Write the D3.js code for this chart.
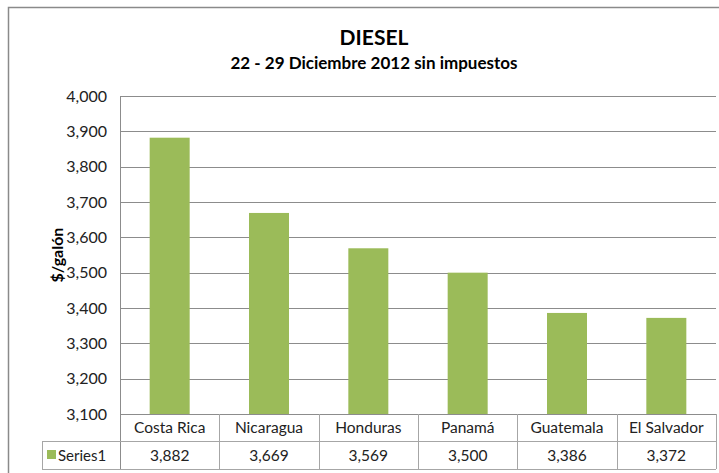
<!DOCTYPE html>
<html><head><meta charset="utf-8">
<script src="https://cdn.jsdelivr.net/npm/d3@7"></script>
<style>body{margin:0;background:#fff}svg{display:block;font-family:Lato,"Open Sans",sans-serif}</style>
</head><body>
<svg id="c" width="719" height="473"></svg>
<script>
const categories = ["Costa Rica","Nicaragua","Honduras","Panamá","Guatemala","El Salvador"];
const seriesName = "Series1";
const values = [3882,3669,3569,3500,3386,3372];
const yTicks = [3100,3200,3300,3400,3500,3600,3700,3800,3900,4000];
const title = "DIESEL";
const subtitle = "22 - 29 Diciembre 2012 sin impuestos";
const yLabel = "$/galón";

const svg = d3.select("#c");
const fmt = d3.format(",");
const L = 120, R = 716, T = 96, B = 414;
const x = d3.scaleBand().domain(categories).range([L, R]);
const y = d3.scaleLinear().domain([3100, 4000]).range([B, T]);
const grid = "#8c8c8c", tbl = "#a6a6a6", green = "#9bbb59";

// outer frame
svg.append("rect").attr("x", 8.5).attr("y", 7.5).attr("width", 740).attr("height", 500)
  .attr("fill", "none").attr("stroke", "#8a8a8a").attr("stroke-width", 1.5);

// titles
svg.append("text").attr("x", 374).attr("y", 45).attr("text-anchor", "middle")
  .attr("font-size", 21).attr("font-weight", "bold").text(title);
svg.append("text").attr("x", 374).attr("y", 69).attr("text-anchor", "middle")
  .attr("font-size", 17).attr("font-weight", "bold").text(subtitle);

// y axis grid + labels
const yAxis = d3.axisLeft(y).tickValues(yTicks).tickFormat(fmt).tickSize(0).tickPadding(13);
const ga = svg.append("g").attr("transform", `translate(${L},0)`).call(yAxis);
ga.select(".domain").remove();
ga.selectAll("text").attr("font-size", 16).attr("fill", "#222").attr("font-family", "Lato,sans-serif");
svg.append("g").selectAll("line").data(yTicks).join("line")
  .attr("x1", L).attr("x2", R).attr("y1", d => Math.round(y(d)) + 0.5).attr("y2", d => Math.round(y(d)) + 0.5)
  .attr("stroke", grid).attr("stroke-width", 1);
svg.append("line").attr("x1", L + 0.5).attr("x2", L + 0.5).attr("y1", T).attr("y2", 469)
  .attr("stroke", grid);

// y label
svg.append("text").attr("transform", `translate(63,${(T + B) / 2}) rotate(-90)`)
  .attr("text-anchor", "middle").attr("font-size", 16).attr("font-weight", "bold").text(yLabel);

// bars
const bw = 40;
svg.append("g").selectAll("rect").data(values).join("rect")
  .attr("x", (d, i) => x(categories[i]) + x.bandwidth() / 2 - bw / 2)
  .attr("width", bw)
  .attr("y", d => y(d)).attr("height", d => B - y(d))
  .attr("fill", green);

// data table
const r1 = 441, r2 = 469, tl = 42;
const tg = svg.append("g").attr("stroke", tbl).attr("stroke-width", 1);
tg.append("line").attr("x1", tl).attr("x2", R).attr("y1", r1 + 0.5).attr("y2", r1 + 0.5);
tg.append("line").attr("x1", tl).attr("x2", R).attr("y1", r2 + 0.5).attr("y2", r2 + 0.5);
tg.append("line").attr("x1", tl + 0.5).attr("x2", tl + 0.5).attr("y1", r1).attr("y2", r2);
tg.selectAll(".v").data(categories).join("line").attr("class", "v")
  .attr("x1", d => Math.round(x(d) + x.bandwidth()) + 0.5).attr("x2", d => Math.round(x(d) + x.bandwidth()) + 0.5)
  .attr("y1", B).attr("y2", r2);

svg.append("g").selectAll("text").data(categories).join("text")
  .attr("x", d => x(d) + x.bandwidth() / 2).attr("y", (B + r1) / 2 + 5.5)
  .attr("text-anchor", "middle").attr("font-size", 15.5).attr("fill", "#222").text(d => d);
svg.append("g").selectAll("text").data(values).join("text")
  .attr("x", (d, i) => x(categories[i]) + x.bandwidth() / 2).attr("y", (r1 + r2) / 2 + 5.5)
  .attr("text-anchor", "middle").attr("font-size", 15.5).attr("fill", "#222").text(d => fmt(d));
svg.append("rect").attr("x", 47).attr("y", 450).attr("width", 9).attr("height", 9).attr("fill", green);
svg.append("text").attr("x", 58).attr("y", (r1 + r2) / 2 + 5.5).attr("font-size", 15).attr("fill", "#222").text(seriesName);
</script>
</body></html>
